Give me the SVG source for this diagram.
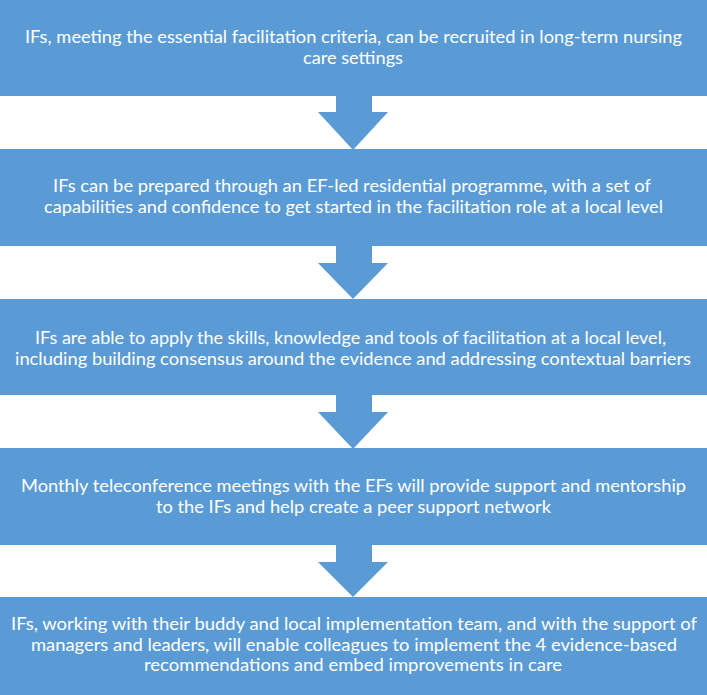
<svg xmlns="http://www.w3.org/2000/svg" width="707" height="695" viewBox="0 0 707 695">
<style>
.box{fill:#5B9BD5}
.arr{fill:#5B9BD5}
text{font-family:Lato,"Open Sans","Liberation Sans",sans-serif;font-size:17.5px;fill:#FFFFFF;text-anchor:middle}
</style>
<rect x="0" y="0" width="707" height="695" fill="#FFFFFF"/>
<g id="connectors">
<polygon class="arr" points="336,95 372,95 372,112 388,112 353,150 318,112 336,112"/>
<polygon class="arr" points="336,245 372,245 372,263 388,263 353,299 318,263 336,263"/>
<polygon class="arr" points="336,394 372,394 372,412 388,412 353,449 318,412 336,412"/>
<polygon class="arr" points="336,544 372,544 372,562 388,562 353,597 318,562 336,562"/>
</g>
<g id="node1">
<rect class="box" x="0" y="0" width="707" height="96"/>
<text x="353.5" y="43" textLength="657" lengthAdjust="spacingAndGlyphs">IFs, meeting the essential facilitation criteria, can be recruited in long-term nursing</text>
<text x="353" y="64" textLength="100" lengthAdjust="spacingAndGlyphs">care settings</text>
</g>
<g id="node2">
<rect class="box" x="0" y="149" width="707" height="97"/>
<text x="352" y="192" textLength="598" lengthAdjust="spacingAndGlyphs">IFs can be prepared through an EF-led residential programme, with a set of</text>
<text x="353.5" y="213" textLength="619" lengthAdjust="spacingAndGlyphs">capabilities and confidence to get started in the facilitation role at a local level</text>
</g>
<g id="node3">
<rect class="box" x="0" y="299" width="707" height="96"/>
<text x="350.5" y="344" textLength="631" lengthAdjust="spacingAndGlyphs">IFs are able to apply the skills, knowledge and tools of facilitation at a local level,</text>
<text x="353" y="365" textLength="676" lengthAdjust="spacingAndGlyphs">including building consensus around the evidence and addressing contextual barriers</text>
</g>
<g id="node4">
<rect class="box" x="0" y="448" width="707" height="97"/>
<text x="353.5" y="492" textLength="665" lengthAdjust="spacingAndGlyphs">Monthly teleconference meetings with the EFs will provide support and mentorship</text>
<text x="353.5" y="513" textLength="395" lengthAdjust="spacingAndGlyphs">to the IFs and help create a peer support network</text>
</g>
<g id="node5">
<rect class="box" x="0" y="597" width="707" height="98"/>
<text x="354" y="630" textLength="686" lengthAdjust="spacingAndGlyphs">IFs, working with their buddy and local implementation team, and with the support of</text>
<text x="354" y="650.5" textLength="646" lengthAdjust="spacingAndGlyphs">managers and leaders, will enable colleagues to implement the 4 evidence-based</text>
<text x="353" y="671" textLength="418" lengthAdjust="spacingAndGlyphs">recommendations and embed improvements in care</text>
</g>
</svg>
